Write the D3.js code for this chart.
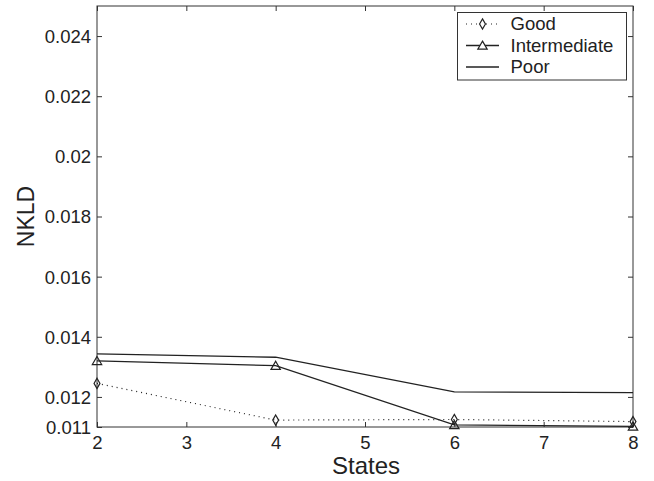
<!DOCTYPE html>
<html>
<head>
<meta charset="utf-8">
<script src="https://cdn.jsdelivr.net/npm/d3@7"></script>
<style>
  html, body { margin: 0; padding: 0; background: #fff; }
  svg { display: block; font-family: "Liberation Sans", Arial, Helvetica, sans-serif; }
</style>
</head>
<body>
<svg id="chart" width="654" height="481"></svg>
<script>
const states = [2, 4, 6, 8];
const good = [0.01245, 0.01123, 0.01125, 0.01118];
const intermediate = [0.01320, 0.01304, 0.01107, 0.01102];
const poor = [0.01343, 0.01332, 0.01217, 0.01214];
const xTicks = [2, 3, 4, 5, 6, 7, 8];
const yTicks = [0.011, 0.012, 0.014, 0.016, 0.018, 0.02, 0.022, 0.024];
const yTickLabels = ["0.011", "0.012", "0.014", "0.016", "0.018", "0.02", "0.022", "0.024"];
const seriesNames = ["Good", "Intermediate", "Poor"];

const svg = d3.select("#chart");
const m = { left: 97, right: 633, top: 6, bottom: 427 };
const x = d3.scaleLinear().domain([2, 8]).range([m.left, m.right]);
const y = d3.scaleLinear().domain([0.011, 0.025]).range([m.bottom, m.top]);
const axisColor = "#333";
const tickLen = 5;

// box
svg.append("rect").attr("x", m.left).attr("y", m.top)
  .attr("width", m.right - m.left).attr("height", m.bottom - m.top)
  .attr("fill", "none").attr("stroke", axisColor).attr("stroke-width", 1);

// axes (ticks inward)
const xAxisB = d3.axisBottom(x).tickValues(xTicks).tickSizeInner(-tickLen).tickSizeOuter(0).tickPadding(9).tickFormat(d3.format("d"));
const gx = svg.append("g").attr("transform", `translate(0,${m.bottom})`).call(xAxisB);
const xAxisT = d3.axisTop(x).tickValues(xTicks).tickSizeInner(-tickLen).tickSizeOuter(0).tickFormat("");
const gxt = svg.append("g").attr("transform", `translate(0,${m.top})`).call(xAxisT);
const yAxisL = d3.axisLeft(y).tickValues(yTicks).tickSizeInner(-tickLen).tickSizeOuter(0).tickPadding(6)
  .tickFormat((d, i) => yTickLabels[i]);
const gy = svg.append("g").attr("transform", `translate(${m.left},0)`).call(yAxisL);
const yAxisR = d3.axisRight(y).tickValues(yTicks).tickSizeInner(-tickLen).tickSizeOuter(0).tickFormat("");
const gyr = svg.append("g").attr("transform", `translate(${m.right},0)`).call(yAxisR);

[gx, gxt, gy, gyr].forEach(g => {
  g.select(".domain").remove();
  g.selectAll("line").attr("stroke", axisColor);
  g.selectAll("text").attr("fill", "#222").style("font-size", "18.5px")
    .style("font-family", "'Liberation Sans', Arial, sans-serif");
});
gy.selectAll("text").attr("dy", "0.35em");

// axis labels
svg.append("text").attr("x", (m.left + m.right) / 2 + 1).attr("y", 474)
  .attr("text-anchor", "middle").style("font-size", "24px").attr("fill", "#222").text("States");
svg.append("text").attr("transform", `translate(34,${(m.top + m.bottom) / 2}) rotate(-90)`)
  .attr("text-anchor", "middle").style("font-size", "23px").attr("fill", "#222").text("NKLD");

const line = d3.line().x((d, i) => x(states[i])).y(d => y(d));
const lineColor = "#222";

// Poor
svg.append("path").datum(poor).attr("d", line).attr("fill", "none")
  .attr("stroke", lineColor).attr("stroke-width", 1.3);
// Intermediate
svg.append("path").datum(intermediate).attr("d", line).attr("fill", "none")
  .attr("stroke", lineColor).attr("stroke-width", 1.3);
// Good
svg.append("path").datum(good).attr("d", line).attr("fill", "none")
  .attr("stroke", lineColor).attr("stroke-width", 1.2).attr("stroke-dasharray", "1,4");

const triSym = d3.symbol().type(d3.symbolTriangle).size(38);
const diaSym = d3.symbol().type(d3.symbolDiamond).size(30);

svg.append("g").selectAll("path").data(intermediate).join("path")
  .attr("d", triSym).attr("transform", (d, i) => `translate(${x(states[i])},${y(d) + 1})`)
  .attr("fill", "none").attr("stroke", lineColor).attr("stroke-width", 1.2);
svg.append("g").selectAll("path").data(good).join("path")
  .attr("d", diaSym).attr("transform", (d, i) => `translate(${x(states[i])},${y(d)})`)
  .attr("fill", "none").attr("stroke", lineColor).attr("stroke-width", 1.2);

// legend
const lg = svg.append("g");
lg.append("rect").attr("x", 457.5).attr("y", 12.5).attr("width", 169).attr("height", 67.5)
  .attr("fill", "#fff").attr("stroke", axisColor).attr("stroke-width", 1);
const rowY = [24, 45.5, 67];
seriesNames.forEach((name, i) => {
  const ln = lg.append("line").attr("x1", 466).attr("x2", 499).attr("y1", rowY[i]).attr("y2", rowY[i])
    .attr("stroke", lineColor).attr("stroke-width", i === 0 ? 1.2 : 1.3);
  if (i === 0) ln.attr("stroke-dasharray", "1,4");
  if (i === 0) lg.append("path").attr("d", diaSym).attr("transform", `translate(482.5,${rowY[i]})`)
    .attr("fill", "#fff").attr("stroke", lineColor).attr("stroke-width", 1.2);
  if (i === 1) lg.append("path").attr("d", triSym).attr("transform", `translate(482.5,${rowY[i] + 1})`)
    .attr("fill", "#fff").attr("stroke", lineColor).attr("stroke-width", 1.2);
  lg.append("text").attr("x", 510.5).attr("y", rowY[i]).attr("dy", "0.35em")
    .style("font-size", "18.5px").attr("fill", "#222").text(name);
});
</script>
</body>
</html>
